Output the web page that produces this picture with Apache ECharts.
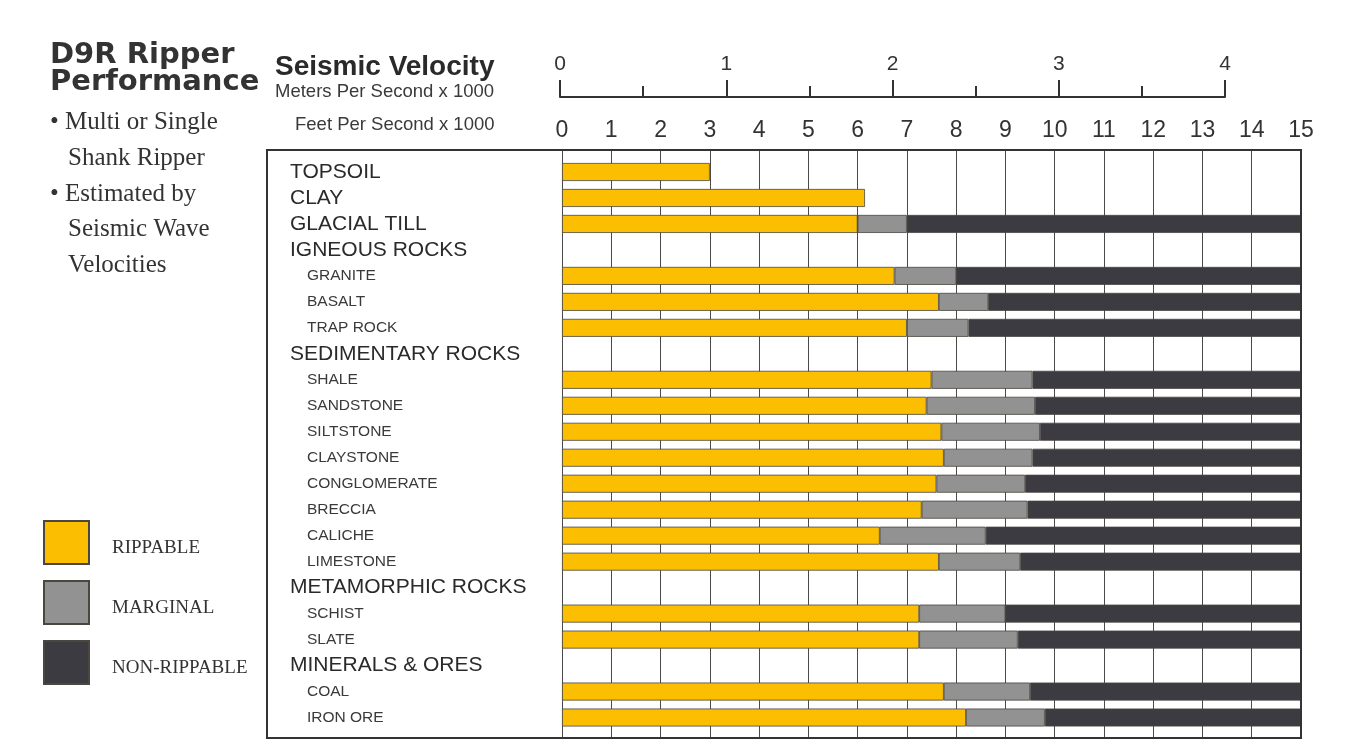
<!DOCTYPE html>
<html>
<head>
<meta charset="utf-8">
<script src="https://cdn.jsdelivr.net/npm/echarts@6/dist/echarts.min.js"></script>
<style>html,body{margin:0;padding:0;background:#fff}#c{width:1359px;height:746px}</style>
</head>
<body>
<div id="c"></div>
<script>
const categories = ['TOPSOIL','CLAY','GLACIAL TILL','IGNEOUS ROCKS','GRANITE','BASALT','TRAP ROCK','SEDIMENTARY ROCKS','SHALE','SANDSTONE','SILTSTONE','CLAYSTONE','CONGLOMERATE','BRECCIA','CALICHE','LIMESTONE','METAMORPHIC ROCKS','SCHIST','SLATE','MINERALS & ORES','COAL','IRON ORE'];
const headings = ['TOPSOIL','CLAY','GLACIAL TILL','IGNEOUS ROCKS','SEDIMENTARY ROCKS','METAMORPHIC ROCKS','MINERALS & ORES'];
// upper limit of each zone, feet per second x 1000
const rippableEnd = [3.0, 6.15, 6.0, null, 6.75, 7.65, 7.0, null, 7.5, 7.4, 7.7, 7.75, 7.6, 7.3, 6.45, 7.65, null, 7.25, 7.25, null, 7.75, 8.2];
const marginalEnd = [null, null, 7.0, null, 8.0, 8.65, 8.25, null, 9.55, 9.6, 9.7, 9.55, 9.4, 9.45, 8.6, 9.3, null, 9.0, 9.25, null, 9.5, 9.8];
const nonRippableEnd = [null, null, 15, null, 15, 15, 15, null, 15, 15, 15, 15, 15, 15, 15, 15, null, 15, 15, null, 15, 15];
const feetTicks = [0, 15, 1];
const meterTicks = [0, 4, 1];

const rippable = rippableEnd;
const marginal = marginalEnd.map((v, i) => v == null ? null : +(v - rippableEnd[i]).toFixed(2));
const nonRip = nonRippableEnd.map((v, i) => v == null ? null : +(v - marginalEnd[i]).toFixed(2));

const YEL = '#FBBE00', GRY = '#929292', DRK = '#3c3b41';
const SANS = '"Liberation Sans", Arial, sans-serif';
const NARROW = '"Liberation Sans Narrow", "Liberation Sans", Arial, sans-serif';
const SERIF = '"Liberation Serif", "Times New Roman", serif';

const chart = echarts.init(document.getElementById('c'));
const barBorder = {borderColor: '#4a4640', borderWidth: 0.8};

chart.setOption({
  backgroundColor: '#fff',
  animation: false,
  grid: [
    {left: 562, right: 58, top: 150, bottom: 8, containLabel: false},
    {left: 562, right: 58, top: 159, bottom: 15.5, containLabel: false},
    {left: 560, right: 134, top: 96, height: 1, containLabel: false}
  ],
  xAxis: [
    {gridIndex: 0, type: 'value', position: 'top', min: feetTicks[0], max: feetTicks[1], interval: feetTicks[2],
     axisLine: {show: false}, axisTick: {show: false},
     axisLabel: {margin: 8, fontFamily: NARROW, fontSize: 23, color: '#333'},
     splitLine: {show: true, lineStyle: {color: '#4a4a4a', width: 1}}},
    {gridIndex: 1, type: 'value', min: 0, max: 15, show: false},
    {gridIndex: 2, type: 'value', position: 'top', min: meterTicks[0], max: meterTicks[1], interval: meterTicks[2],
     axisLine: {show: true, lineStyle: {color: '#333', width: 2}},
     axisTick: {show: true, length: 17, lineStyle: {color: '#333', width: 2}},
     minorTick: {show: true, splitNumber: 2, length: 11, lineStyle: {color: '#333', width: 2}},
     axisLabel: {margin: 21, fontFamily: NARROW, fontSize: 21, color: '#333'},
     splitLine: {show: false}}
  ],
  yAxis: [
    {gridIndex: 0, type: 'value', min: 0, max: 1, show: false},
    {gridIndex: 1, type: 'category', inverse: true, data: categories,
     axisLine: {show: false}, axisTick: {show: false}, splitLine: {show: false},
     axisLabel: {align: 'left', margin: 272,
       formatter: v => headings.includes(v) ? '{h|' + v + '}' : '{s|' + v + '}',
       rich: {
         h: {fontFamily: SANS, fontSize: 21, color: '#2a2a2a'},
         s: {fontFamily: SANS, fontSize: 15.5, color: '#3a3a3a', padding: [0, 0, 0, 17]}
       }}},
    {gridIndex: 2, type: 'value', show: false}
  ],
  legend: {
    orient: 'vertical', left: 43, top: 520, padding: 0, itemWidth: 45, itemHeight: 43, itemGap: 15,
    icon: 'rect', selectedMode: false,
    formatter: n => '{t|' + n + '}',
    textStyle: {fontFamily: SERIF, fontSize: 19, color: '#333', padding: [0, 0, 0, 18],
      rich: {t: {fontFamily: SERIF, fontSize: 19, color: '#333', padding: [12, 0, 0, 0]}}},
    data: ['RIPPABLE', 'MARGINAL', 'NON-RIPPABLE']
  },
  series: [
    {name: 'RIPPABLE', type: 'bar', stack: 'v', xAxisIndex: 1, yAxisIndex: 1, barWidth: 18, data: rippable,
     itemStyle: Object.assign({color: YEL}, barBorder)},
    {name: 'MARGINAL', type: 'bar', stack: 'v', xAxisIndex: 1, yAxisIndex: 1, barWidth: 18, data: marginal,
     itemStyle: Object.assign({color: GRY}, barBorder)},
    {name: 'NON-RIPPABLE', type: 'bar', stack: 'v', xAxisIndex: 1, yAxisIndex: 1, barWidth: 18, data: nonRip,
     itemStyle: Object.assign({color: DRK}, barBorder)}
  ],
  graphic: [
    {type: 'rect', z: 100, shape: {x: 267, y: 150, width: 1034, height: 588},
     style: {fill: 'none', stroke: '#333', lineWidth: 2}},
    {type: 'text', left: 50, top: 41, style: {text: 'D9R Ripper', font: 'bold 29px "DejaVu Sans", sans-serif', fill: '#333'}},
    {type: 'text', left: 50, top: 68, style: {text: 'Performance', font: 'bold 29px "DejaVu Sans", sans-serif', fill: '#333'}},
    {type: 'text', left: 275, top: 53, style: {text: 'Seismic Velocity', font: 'bold 28px ' + NARROW, fill: '#2a2a2a'}},
    {type: 'text', left: 275, top: 82, style: {text: 'Meters Per Second x 1000', font: '18.5px ' + SANS, fill: '#3a3a3a'}},
    {type: 'text', left: 295, top: 115, style: {text: 'Feet Per Second x 1000', font: '18.5px ' + SANS, fill: '#3a3a3a'}},
    {type: 'text', left: 50, top: 110, style: {text: '\u2022 Multi or Single', font: '25px ' + SERIF, fill: '#333'}},
    {type: 'text', left: 68, top: 146, style: {text: 'Shank Ripper', font: '25px ' + SERIF, fill: '#333'}},
    {type: 'text', left: 50, top: 182, style: {text: '\u2022 Estimated by', font: '25px ' + SERIF, fill: '#333'}},
    {type: 'text', left: 68, top: 217, style: {text: 'Seismic Wave', font: '25px ' + SERIF, fill: '#333'}},
    {type: 'text', left: 68, top: 253, style: {text: 'Velocities', font: '25px ' + SERIF, fill: '#333'}}
  ]
});
</script>
</body>
</html>
